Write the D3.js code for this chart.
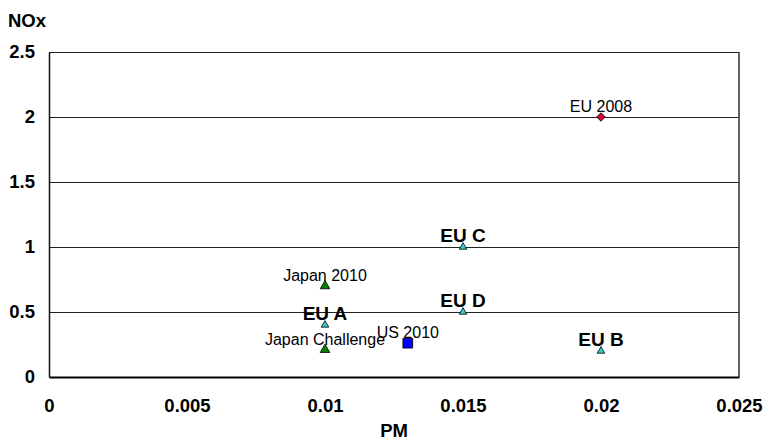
<!DOCTYPE html>
<html><head><meta charset="utf-8">
<script src="https://cdn.jsdelivr.net/npm/d3@7"></script>
<style>html,body{margin:0;padding:0;background:#fff;} svg{display:block;font-family:Arial,"Liberation Sans",sans-serif;}</style>
</head><body>
<svg id="chart" width="764" height="442"></svg>
<script>
const names = ["EU 2008","EU A","EU B","EU C","EU D","Japan 2010","Japan Challenge","US 2010"];
const pmValues = [0.02,0.01,0.02,0.015,0.015,0.01,0.01,0.013];
const noxValues = [2.0,0.4,0.2,1.0,0.5,0.7,0.21,0.26];
const markerKinds = ["diamond","tri","tri","tri","tri","bigtri","bigtri","square"];
const xTicks = [0,0.005,0.01,0.015,0.02,0.025];
const xTickLabels = ["0","0.005","0.01","0.015","0.02","0.025"];
const yTicks = [0,0.5,1,1.5,2,2.5];
const yTickLabels = ["0","0.5","1","1.5","2","2.5"];

const svg = d3.select("#chart");
const m = {l:49, r:739, t:52, b:377};
const x = d3.scaleLinear().domain([0,0.025]).range([m.l,m.r]);
const y = d3.scaleLinear().domain([0,2.5]).range([m.b,m.t]);
const FONT = "Arial, Liberation Sans, sans-serif";

// gridlines
svg.append("g").selectAll("line").data(yTicks.slice(1,-1)).join("line")
  .attr("x1",m.l).attr("x2",m.r).attr("y1",d=>Math.round(y(d))+0.5).attr("y2",d=>Math.round(y(d))+0.5)
  .attr("stroke","#222").attr("stroke-width",1);

// border
svg.append("line").attr("x1",m.l).attr("x2",m.r).attr("y1",m.t+0.5).attr("y2",m.t+0.5).attr("stroke","#222");
svg.append("line").attr("x1",m.r).attr("x2",m.r).attr("y1",m.t).attr("y2",m.b).attr("stroke","#333").attr("stroke-width",1.5);

// axes
const xAxis = d3.axisBottom(x).tickValues(xTicks).tickFormat((d,i)=>xTickLabels[i]).tickSize(0).tickPadding(22);
const gx = svg.append("g").attr("transform",`translate(0,${m.b})`).call(xAxis);
gx.select(".domain").attr("stroke","#000").attr("stroke-width",2);
gx.selectAll("text").attr("font-size","18.5px").attr("font-weight","bold").attr("fill","#000").attr("font-family",FONT);

const yAxis = d3.axisLeft(y).tickValues(yTicks).tickFormat((d,i)=>yTickLabels[i]).tickSize(0).tickPadding(14);
const gy = svg.append("g").attr("transform",`translate(${m.l},0)`).call(yAxis);
gy.select(".domain").attr("stroke","#111").attr("stroke-width",1.5);
gy.selectAll("text").attr("font-size","18.5px").attr("font-weight","bold").attr("fill","#000").attr("font-family",FONT);

// axis titles
svg.append("text").attr("x",8).attr("y",27).text("NOx").attr("font-size","18.5px").attr("font-weight","bold");
svg.append("text").attr("x",(m.l+m.r)/2).attr("y",437).attr("text-anchor","middle").text("PM").attr("font-size","18.5px").attr("font-weight","bold");

// markers
const data = names.map((n,i)=>({name:n, pm:pmValues[i], nox:noxValues[i], kind:markerKinds[i]}));
const g = svg.append("g");
data.forEach(d=>{
  const cx = x(d.pm), cy = y(d.nox);
  let sel;
  if(d.kind==="tri"){
    sel = g.append("path").attr("d",d3.symbol(d3.symbolTriangle,25)()).attr("fill","#33CCCC");
  } else if(d.kind==="bigtri"){
    sel = g.append("path").attr("d",d3.symbol(d3.symbolTriangle,40)()).attr("fill","#008000");
  } else if(d.kind==="square"){
    sel = g.append("path").attr("d",d3.symbol(d3.symbolSquare,95)()).attr("fill","#0000FF");
  } else {
    sel = g.append("path").attr("d",d3.symbol(d3.symbolSquare,36)()).attr("fill","#DD0033");
  }
  const rot = d.kind==="diamond" ? " rotate(45)" : "";
  sel.attr("transform",`translate(${cx},${cy})${rot}`).attr("stroke","#000").attr("stroke-width",0.8);
});

// labels
data.forEach(d=>{
  const bold = d.name.startsWith("EU ") && d.name!=="EU 2008";
  svg.append("text").attr("x",x(d.pm)).attr("y",y(d.nox)-5)
    .attr("text-anchor","middle")
    .attr("font-size", bold?"19px":"16px")
    .attr("font-weight", bold?"bold":"normal")
    .attr("fill","#000")
    .text(d.name);
});
</script>
</body></html>
